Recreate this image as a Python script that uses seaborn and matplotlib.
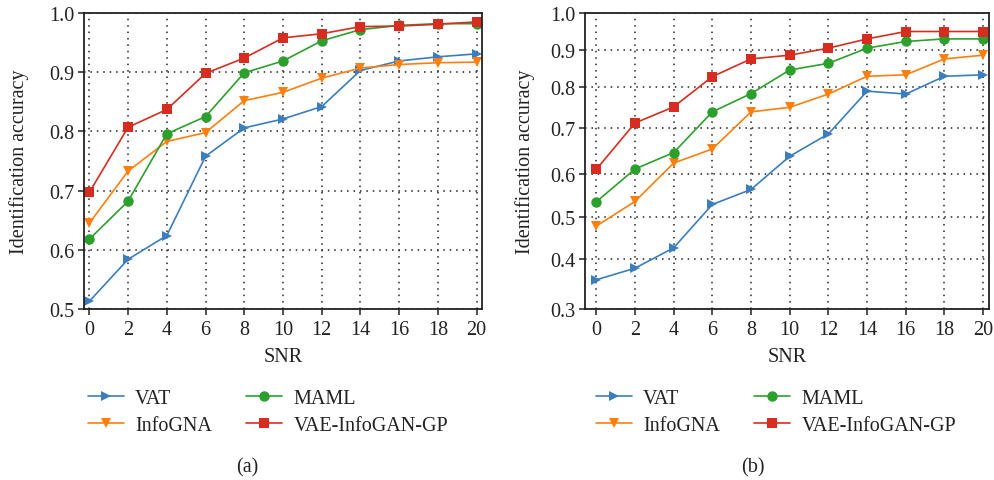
import numpy as np
import pandas as pd
import matplotlib
matplotlib.use("Agg")
import matplotlib.pyplot as plt
import seaborn as sns

# ---------------- data ----------------
snr = [0, 2, 4, 6, 8, 10, 12, 14, 16, 18, 20]
methods = ["VAT", "InfoGNA", "MAML", "VAE-InfoGAN-GP"]

# panel (a)
a_vat = [0.513, 0.584, 0.624, 0.758, 0.806, 0.821, 0.842, 0.903, 0.919, 0.926, 0.931]
a_info = [0.645, 0.733, 0.783, 0.798, 0.852, 0.866, 0.890, 0.907, 0.913, 0.916, 0.917]
a_maml = [0.618, 0.682, 0.796, 0.825, 0.899, 0.919, 0.953, 0.972, 0.979, 0.982, 0.982]
a_vae = [0.697, 0.807, 0.837, 0.898, 0.924, 0.958, 0.965, 0.977, 0.978, 0.981, 0.985]

# panel (b)
b_vat = [0.358, 0.381, 0.426, 0.529, 0.564, 0.639, 0.688, 0.790, 0.783, 0.829, 0.833]
b_info = [0.478, 0.536, 0.624, 0.655, 0.740, 0.751, 0.783, 0.829, 0.833, 0.876, 0.886]
b_maml = [0.535, 0.611, 0.647, 0.740, 0.784, 0.846, 0.864, 0.905, 0.923, 0.930, 0.930]
b_vae = [0.610, 0.713, 0.752, 0.828, 0.876, 0.886, 0.905, 0.930, 0.950, 0.950, 0.950]

a_yticks = [0.5, 0.6, 0.7, 0.8, 0.9, 1.0]
b_yticks = [0.3, 0.4, 0.5, 0.6, 0.7, 0.8, 0.9, 1.0]
# panel (b) uses a non-uniform axis: relative position of each tick (0=bottom, 1=top)
b_tick_pos = [0.0, 0.170, 0.311, 0.456, 0.610, 0.750, 0.875, 1.0]

colors = {"VAT": "#3a7ebf", "InfoGNA": "#ff7f0e", "MAML": "#2ca02c", "VAE-InfoGAN-GP": "#d62d20"}
markers = {"VAT": ">", "InfoGNA": "v", "MAML": "o", "VAE-InfoGAN-GP": "s"}


def long_df(series):
    rows = []
    for m, vals in zip(methods, series):
        for x, y in zip(snr, vals):
            rows.append({"SNR": x, "acc": y, "method": m})
    return pd.DataFrame(rows)


df_a = long_df([a_vat, a_info, a_maml, a_vae])
df_b = long_df([b_vat, b_info, b_maml, b_vae])

# ---------------- style ----------------
sns.set_theme(style="ticks")
plt.rcParams["font.family"] = ["Liberation Serif", "DejaVu Serif"]
plt.rcParams.update({
    "font.size": 14.5,
    "axes.edgecolor": "#222222",
    "axes.linewidth": 1.3,
    "xtick.color": "#222222",
    "ytick.color": "#222222",
    "xtick.labelcolor": "#222222",
    "ytick.labelcolor": "#222222",
    "xtick.major.size": 4,
    "ytick.major.size": 4,
    "xtick.major.width": 1.1,
    "ytick.major.width": 1.1,
    "xtick.major.pad": 4,
    "ytick.major.pad": 3,
    "xtick.labelsize": 14.5,
    "ytick.labelsize": 14.5,
    "axes.labelsize": 14.5,
    "legend.fontsize": 14.5,
    "text.color": "#222222",
    "axes.labelcolor": "#222222",
})

fig = plt.figure(figsize=(9.95, 4.81), dpi=100)
W, H = 995, 481


def add_ax(x0, x1, y0, y1):
    return fig.add_axes([x0 / W, 1 - y1 / H, (x1 - x0) / W, (y1 - y0) / H])


ax_a = add_ax(84.3, 482.3, 14, 310)
ax_b = add_ax(585, 989, 14, 310)


# non-uniform scale for panel (b)
def fwd(v):
    return np.interp(v, b_yticks, b_tick_pos)


def inv(p):
    return np.interp(p, b_tick_pos, b_yticks)


ax_b.set_yscale("function", functions=(fwd, inv))

panels = [(ax_a, df_a, (-0.26, 20.29), (0.5, 1.0), a_yticks, "(a)", 247, 268, -0.164),
          (ax_b, df_b, (-0.58, 20.3), (0.3, 1.0), b_yticks, "(b)", 753, 776, -0.149)]

for ax, df, xl, yl, yt, tag, tagx, legx, ylx in panels:
    sns.lineplot(data=df, x="SNR", y="acc", hue="method", style="method",
                 palette=colors, markers=markers, dashes=False,
                 hue_order=methods, style_order=methods,
                 linewidth=1.2, markersize=7.5, markeredgewidth=0, ax=ax)
    handles, labels = ax.get_legend_handles_labels()
    ax.get_legend().remove()
    ax.set_xlim(*xl)
    ax.set_ylim(*yl)
    ax.set_xticks(snr)
    ax.set_yticks(yt)
    ax.set_yticklabels([f"{v:.1f}" for v in yt])
    ax.grid(True, color="#222222", linestyle=(0, (1, 3.2)), linewidth=1.1)
    ax.set_axisbelow(True)
    for s in ax.spines.values():
        s.set_visible(True)
    ax.set_xlabel("SNR")
    ax.set_ylabel("Identification accuracy")
    ax.xaxis.set_label_coords(0.5, -0.159)
    ax.xaxis.label.set_va("center")
    ax.yaxis.set_label_coords(ylx, 0.5)
    ax.yaxis.label.set_va("center")
    ax.legend(handles, labels, ncol=2, loc="center",
              bbox_to_anchor=(legx / W, 1 - 413 / H), bbox_transform=fig.transFigure,
              frameon=False, handlelength=1.8, handletextpad=0.55,
              columnspacing=1.7, labelspacing=0.4, borderpad=0)
    fig.text(tagx / W, 1 - 468 / H, tag, ha="center", va="center", fontsize=14.5)

fig.savefig("out.png", dpi=100)
